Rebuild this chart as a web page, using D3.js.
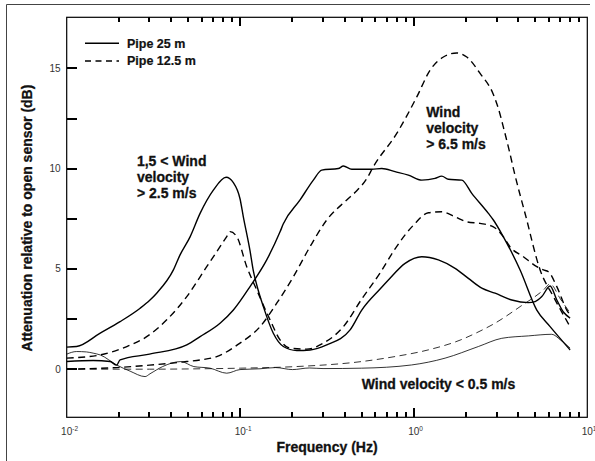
<!DOCTYPE html>
<html>
<head>
<meta charset="utf-8">
<script src="https://cdn.jsdelivr.net/npm/d3@7"></script>
<style>
  html, body { margin: 0; padding: 0; background: #fff; }
  svg { display: block; font-family: "Liberation Sans", Arial, Helvetica, sans-serif; }
</style>
</head>
<body>
<svg id="chart" width="595" height="461"></svg>
<script>
// [frequency (Hz), attenuation (dB)]
const pipe25Low = [[0.01,0.75],[0.0114,0.88],[0.013,0.86],[0.0142,0.8],[0.0156,0.71],[0.0194,0.21],[0.0232,-0.1],[0.0283,-0.37],[0.0302,-0.23],[0.0357,0.13],[0.0455,0.38],[0.054,0.13],[0.067,0.05],[0.0836,-0.2],[0.0997,-0.02],[0.13,0.02],[0.16,0.08],[0.2,-0.02],[0.25,0.06],[0.3,0.03],[0.5,0.05],[0.97,0.21],[1.515,0.55],[2.357,1.13],[3.215,1.54],[4.577,1.66],[6.244,1.74],[7.0,1.46],[7.96,1.05]];
const pipe12Low = [[0.01,0.0],[0.03,0.0],[0.06,0.02],[0.1,0.05],[0.21,0.13],[0.5,0.38],[0.78,0.63],[1.21,0.96],[1.85,1.45],[2.41,1.9],[2.88,2.25],[4.1,3.12],[5.59,3.95],[6.1,4.25],[7.0,3.5],[7.96,2.8]];
const pipe25Mid = [[0.01,1.1],[0.0114,1.13],[0.0156,1.8],[0.0203,2.37],[0.0265,3.04],[0.0302,3.45],[0.033,3.79],[0.0412,4.95],[0.045,5.7],[0.0514,6.6],[0.0587,7.77],[0.07,8.93],[0.0829,9.57],[0.0913,9.3],[0.0997,8.5],[0.1042,7.6],[0.1139,5.9],[0.119,4.9],[0.1245,4.2],[0.1359,3.12],[0.1551,1.79],[0.1772,1.13],[0.2117,0.93],[0.2525,0.96],[0.3151,1.21],[0.4296,1.96],[0.5015,2.95],[0.6395,4.0],[0.714,4.45],[0.8913,5.28],[1.112,5.61],[1.386,5.45],[1.73,5.03],[2.064,4.53],[2.466,4.04],[2.941,3.79],[3.671,3.45],[4.577,3.32],[5.003,3.37],[5.468,3.62],[6.105,4.15],[6.672,3.45],[7.282,2.85],[7.96,2.55]];
const pipe12Mid = [[0.01,0.55],[0.0156,0.71],[0.0222,1.13],[0.0289,1.62],[0.0377,2.46],[0.0492,3.62],[0.0641,5.11],[0.0836,6.61],[0.0874,6.86],[0.0955,6.61],[0.109,5.11],[0.1245,3.95],[0.1485,2.46],[0.1696,1.46],[0.1936,1.05],[0.2417,1.0],[0.3013,1.3],[0.393,2.12],[0.5015,3.5],[0.6395,4.8],[0.7803,6.0],[0.8913,6.7],[1.0,7.2],[1.214,7.8],[1.45,7.85],[1.73,7.6],[2.02,7.35],[2.41,7.27],[2.876,7.1],[3.284,6.6],[3.589,6.1],[4.284,5.61],[5.117,5.11],[5.585,4.95],[5.968,4.86],[6.672,4.12],[7.618,2.95],[7.96,2.7]];
const pipe25High = [[0.01,0.38],[0.0142,0.43],[0.0178,0.38],[0.0194,0.2],[0.0203,0.46],[0.03,0.75],[0.0492,1.21],[0.0587,1.62],[0.0765,2.29],[0.0913,2.95],[0.1139,4.12],[0.1421,5.45],[0.1696,6.85],[0.1772,7.25],[0.2212,8.44],[0.2638,9.43],[0.2949,9.93],[0.3677,10.01],[0.393,10.13],[0.4393,9.97],[0.5727,9.97],[0.6541,10.01],[0.7803,9.85],[0.931,9.68],[1.112,9.43],[1.327,9.52],[1.45,9.63],[1.583,9.47],[1.891,9.43],[2.159,8.77],[2.692,7.77],[2.876,7.44],[3.284,6.6],[4.1,4.95],[5.117,2.95],[6.105,2.12],[7.96,0.96]];
const pipe12High = [[0.01,0.0],[0.0194,0.08],[0.03,0.2],[0.0492,0.38],[0.0587,0.46],[0.0732,0.63],[0.0997,1.3],[0.1301,2.12],[0.1623,3.29],[0.2024,4.61],[0.2525,6.11],[0.3151,7.44],[0.411,8.44],[0.4693,8.9],[0.5359,9.5],[0.585,10.1],[0.798,11.76],[1.041,13.58],[1.241,14.91],[1.481,15.57],[1.769,15.77],[2.021,15.57],[2.411,14.75],[2.876,13.7],[3.073,13.0],[3.3,12.0],[3.55,10.9],[3.8,9.8],[4.4,7.7],[5.346,4.95],[6.378,3.62],[7.96,2.12]];

const legendLabels = ["Pipe 25 m", "Pipe 12.5 m"];
const xDomain = [0.01, 10];
const yDomain = [-2.4, 17.55];
const yTickValues = [0, 2.5, 5, 7.5, 10, 12.5, 15];
const yLabelValues = [0, 5, 10, 15];
const decadeValues = [0.01, 0.1, 1, 10];
const decadeExponents = ["-2", "-1", "0", "1"];
const notes = [
  { lines: ["1,5 < Wind", "velocity", "> 2.5 m/s"], f: 0.0254, v: 10.14 },
  { lines: ["Wind", "velocity", "> 6.5 m/s"], f: 1.18, v: 12.57 },
  { lines: ["Wind velocity < 0.5 m/s"], f: 0.5015, v: -0.98 }
];

const svg = d3.select("#chart");
const W = 595, H = 461;
const L = 66.7, R = 587.3, T = 17.3, B = 417.3;

const x = d3.scaleLog().domain(xDomain).range([L, R]);
const y = d3.scaleLinear().domain(yDomain).range([B, T]);

// outer figure frame (top + left visible)
svg.append("path")
  .attr("d", `M6.5,${H + 2} V4.5 H590`)
  .attr("fill", "none").attr("stroke", "#444").attr("stroke-width", 1);

svg.append("clipPath").attr("id", "plotClip")
  .append("rect").attr("x", L).attr("y", T).attr("width", R - L).attr("height", B - T);

const isMajor = v => Math.abs(Math.log10(v) - Math.round(Math.log10(v))) < 1e-9;
const xTicks = x.ticks().filter(v => v > xDomain[0] * 1.01 && v < xDomain[1] * 0.99);

// plot frame
svg.append("rect").attr("x", L).attr("y", T).attr("width", R - L).attr("height", B - T)
  .attr("fill", "none").attr("stroke", "#000").attr("stroke-width", 1.2);

// inward ticks, pixel-aligned so they stay crisp
const tickG = svg.append("g").attr("class", "inward-ticks").attr("shape-rendering", "crispEdges");
tickG.selectAll("rect.xb").data(xTicks).enter().append("rect").attr("class", "xb")
  .attr("x", d => Math.round(x(d)) - 1).attr("width", 2)
  .attr("y", d => Math.round(B) - (isMajor(d) ? 9 : 5)).attr("height", d => isMajor(d) ? 9 : 5)
  .style("fill", "#000");
tickG.selectAll("rect.xt").data(xTicks).enter().append("rect").attr("class", "xt")
  .attr("x", d => Math.round(x(d)) - 1).attr("width", 2)
  .attr("y", Math.round(T)).attr("height", d => isMajor(d) ? 9 : 5)
  .style("fill", "#000");
tickG.selectAll("rect.yl").data(yTickValues).enter().append("rect").attr("class", "yl")
  .attr("x", Math.round(L)).attr("width", 10)
  .attr("y", d => Math.round(y(d)) - 1).attr("height", 2)
  .style("fill", "#000");

// y labels
svg.append("g").selectAll("text").data(yLabelValues).enter().append("text")
  .attr("x", L - 6).attr("y", d => y(d)).attr("dy", "0.35em")
  .attr("text-anchor", "end").attr("font-size", 10).attr("fill", "#333")
  .text(d => d);

// decade labels 10^n
decadeValues.forEach((v, i) => {
  const t = svg.append("text").attr("x", x(v) - 5.6).attr("y", 435)
    .attr("font-size", 10).attr("fill", "#333");
  t.append("tspan").text("10");
  t.append("tspan").attr("dy", -4).attr("font-size", 6.5).text(decadeExponents[i]);
});

// curves
const line = d3.line().x(d => x(d[0])).y(d => y(d[1])).curve(d3.curveMonotoneX);
const series = [
  { data: pipe25Low, dash: null, w: 0.8 },
  { data: pipe12Low, dash: "7,4.5", w: 0.8 },
  { data: pipe25Mid, dash: null, w: 1.4 },
  { data: pipe12Mid, dash: "7,4.5", w: 1.4 },
  { data: pipe25High, dash: null, w: 1.4 },
  { data: pipe12High, dash: "7,4.5", w: 1.4 }
];
svg.append("g").attr("clip-path", "url(#plotClip)")
  .selectAll("path").data(series).enter().append("path")
  .attr("d", d => line(d.data))
  .attr("fill", "none")
  .attr("stroke", "#000")
  .attr("stroke-width", d => d.w)
  .attr("stroke-dasharray", d => d.dash)
  .attr("stroke-linejoin", "round");

// legend
const lg = svg.append("g");
legendLabels.forEach((lab, i) => {
  const ly = 43.3 + i * 17.7;
  lg.append("line").attr("x1", 85).attr("x2", 119).attr("y1", ly).attr("y2", ly)
    .attr("stroke", "#000").attr("stroke-width", 1.4)
    .attr("stroke-dasharray", i === 0 ? null : "6,4.5");
  lg.append("text").attr("x", 127).attr("y", ly + 4.3)
    .attr("font-size", 12.5).attr("font-weight", "bold").attr("fill", "#111")
    .attr("stroke", "#111").attr("stroke-width", 0.2).text(lab);
});

// annotations
notes.forEach(n => {
  const t = svg.append("text").attr("x", x(n.f)).attr("y", y(n.v))
    .attr("font-size", 14).attr("font-weight", "bold").attr("fill", "#111")
    .attr("stroke", "#111").attr("stroke-width", 0.3);
  n.lines.forEach((s, j) => {
    t.append("tspan").attr("x", x(n.f)).attr("dy", j === 0 ? 0 : 16).text(s);
  });
});

// axis titles
svg.append("text").attr("x", 327).attr("y", 452)
  .attr("text-anchor", "middle").attr("font-size", 14).attr("font-weight", "bold")
  .attr("fill", "#111").attr("stroke", "#111").attr("stroke-width", 0.3)
  .text("Frequency (Hz)");
svg.append("text").attr("transform", `translate(32,218) rotate(-90)`)
  .attr("text-anchor", "middle").attr("font-size", 14).attr("font-weight", "bold")
  .attr("fill", "#111").attr("stroke", "#111").attr("stroke-width", 0.3)
  .text("Attenuation relative to open sensor (dB)");
</script>
</body>
</html>
